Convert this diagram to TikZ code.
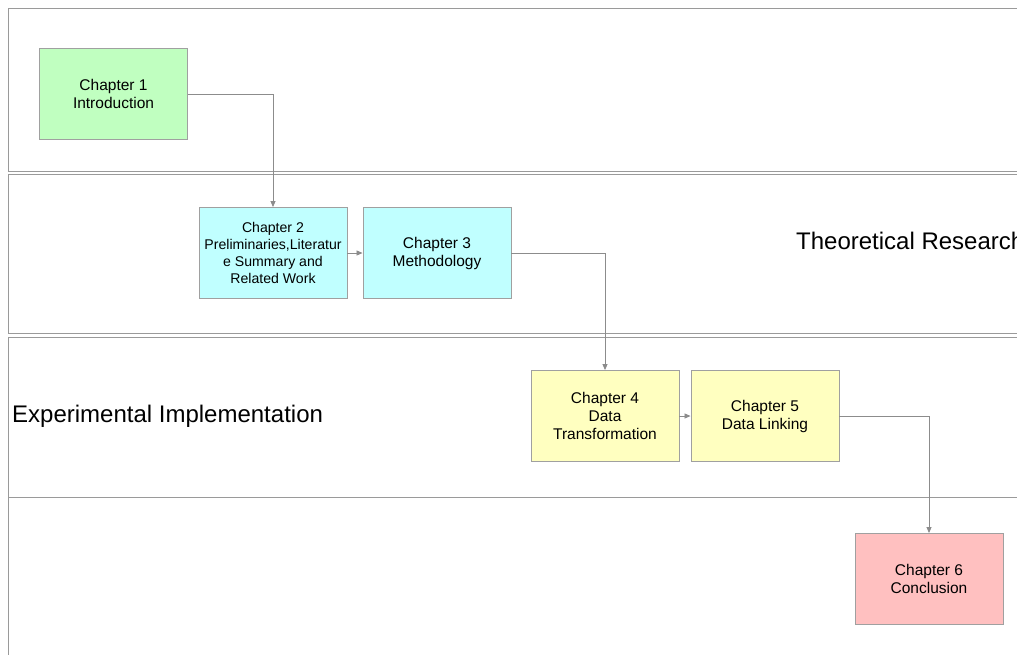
\documentclass[tikz,border=0pt]{standalone}
\usepackage{fontspec}
\setmainfont{Liberation Sans}
\usetikzlibrary{arrows.meta}
\definecolor{lanegray}{HTML}{9A9A9A}
\definecolor{linkgray}{HTML}{8C8C8C}
\definecolor{boxedge}{HTML}{A0A0A0}
\definecolor{introfill}{HTML}{C0FFC0}
\definecolor{theoryfill}{HTML}{C0FFFF}
\definecolor{implfill}{HTML}{FFFFC0}
\definecolor{endfill}{HTML}{FFC0C0}
\tikzset{
  lane/.style={draw=lanegray, line width=0.9pt},
  chapter/.style={draw=boxedge, line width=0.9pt, minimum width=148pt, minimum height=91pt,
    inner sep=0pt, align=center, font=\fontsize{15.5}{18}\selectfont},
  link/.style={draw=linkgray, line width=0.8pt, -{Triangle[length=6pt,width=5pt]}},
  lanelabel/.style={font=\fontsize{24}{28}\selectfont, inner sep=0pt}
}
\begin{document}
\begin{tikzpicture}[x=1pt, y=-1pt]
\useasboundingbox (0,0) rectangle (1017,654);
\fill[white] (0,0) rectangle (1017,654);
\begin{scope}
\clip (0,0) rectangle (1017,654);
% swim lanes, running past the right and bottom edges
\draw[lane] (8,8) rectangle (1040,171);
\draw[lane] (8,174) rectangle (1040,333);
\draw[lane] (8,337) rectangle (1040,497);
\draw[lane] (8,497) rectangle (1040,680);
% lane titles
\node[lanelabel, anchor=west] (theory) at (796,241) {Theoretical Research};
\end{scope}
\node[lanelabel, anchor=west] (impl) at (12,416) {Experimental Implementation};
% chapters
\node[chapter, fill=introfill] (c1) at (113.5,94) {Chapter 1\\Introduction};
\node[chapter, fill=theoryfill, font=\fontsize{14.1}{17}\selectfont] (c2) at (273,253)
  {Chapter 2\\Preliminaries,Literatur\\e Summary and\\Related Work};
\node[chapter, fill=theoryfill] (c3) at (437,253) {Chapter 3\\Methodology};
\node[chapter, fill=implfill] (c4) at (605,416) {Chapter 4\\Data\\Transformation};
\node[chapter, fill=implfill] (c5) at (765,416) {Chapter 5\\Data Linking};
\node[chapter, fill=endfill] (c6) at (929,579) {Chapter 6\\Conclusion};
% reading order
\draw[link] (c1.east) -| (c2.north);
\draw[link] (c2.east) -- (c3.west);
\draw[link] (c3.east) -| (c4.north);
\draw[link] (c4.east) -- (c5.west);
\draw[link] (c5.east) -| (c6.north);
\end{tikzpicture}
\end{document}
